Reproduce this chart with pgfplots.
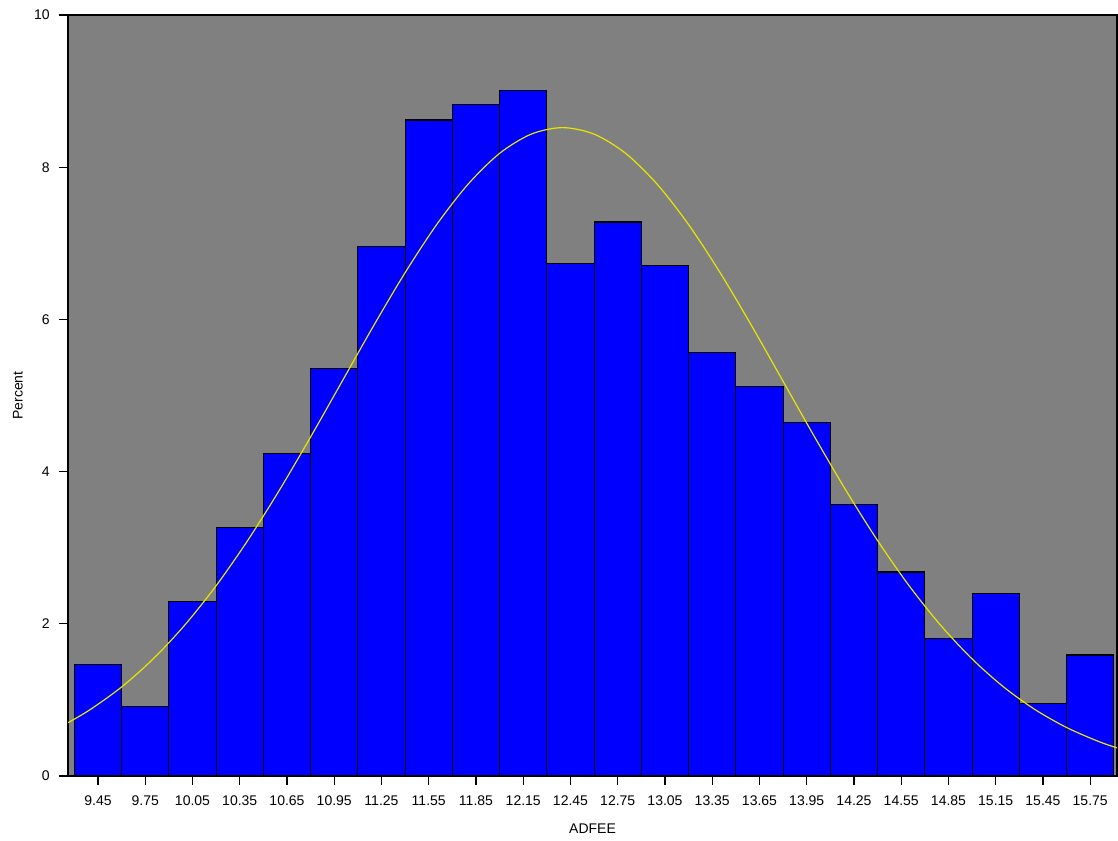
\documentclass[border=0pt]{standalone}
\usepackage{pgfplots}
\pgfplotsset{compat=1.18}
\usepackage{fontspec}
\setmainfont{Liberation Sans}

\definecolor{plotbg}{RGB}{128,128,128}
\definecolor{barblue}{RGB}{0,0,255}
\definecolor{curveyellow}{RGB}{230,230,0}

% bar heights (percent) per bin midpoint
\pgfplotstableread{
mid pct
9.45 1.46
9.75 0.91
10.05 2.29
10.35 3.27
10.65 4.24
10.95 5.35
11.25 6.96
11.55 8.62
11.85 8.82
12.15 9.01
12.45 6.73
12.75 7.28
13.05 6.71
13.35 5.56
13.65 5.12
13.95 4.64
14.25 3.57
14.55 2.68
14.85 1.81
15.15 2.40
15.45 0.95
15.75 1.59
}\bins

\begin{document}
\begin{tikzpicture}
\useasboundingbox (-51pt,-48.75pt) rectangle (787.5pt,582pt);
\begin{axis}[
    scale only axis,
    width=786.75pt, height=570.75pt,
    xmin=9.2595, xmax=15.92,
    ymin=0, ymax=10,
    axis background/.style={fill=plotbg},
    axis line style={line width=0.9pt},
    tick align=outside,
    tick style={black, line width=0.8pt},
    major tick length=6.75pt,
    xtick={9.45,9.75,10.05,10.35,10.65,10.95,11.25,11.55,11.85,12.15,12.45,12.75,13.05,13.35,13.65,13.95,14.25,14.55,14.85,15.15,15.45,15.75},
    xticklabels={9.45,9.75,10.05,10.35,10.65,10.95,11.25,11.55,11.85,12.15,12.45,12.75,13.05,13.35,13.65,13.95,14.25,14.55,14.85,15.15,15.45,15.75},
    ytick={0,2,4,6,8,10},
    yticklabels={0,2,4,6,8,10},
    xtick pos=bottom, ytick pos=left,
    xticklabel shift=4.5pt,
    yticklabel shift=3.5pt,
    tick label style={font=\fontsize{10.5}{12}\selectfont},
    label style={font=\fontsize{10.5}{12}\selectfont},
    xlabel={ADFEE},
    ylabel={Percent},
    xlabel style={at={(axis description cs:0.5,0)}, anchor=center, yshift=-39.75pt},
    ylabel style={at={(axis description cs:0,0.5)}, anchor=center, yshift=37.5pt},
    clip=true,
]
\addplot[ybar, bar width=0.3, bar shift=0pt, fill=barblue, draw=black, line width=0.9pt]
    table[x=mid, y=pct] {\bins};
\addplot[curveyellow, line width=0.9pt, smooth] coordinates {
(9.26,0.701) (9.4,0.872) (9.6,1.170) (9.8,1.538) (10.0,1.981) (10.2,2.500)
(10.4,3.093) (10.6,3.750) (10.8,4.455) (11.0,5.186) (11.2,5.917) (11.4,6.614)
(11.6,7.245) (11.8,7.777) (12.0,8.182) (12.2,8.434) (12.4,8.520) (12.6,8.434)
(12.8,8.182) (13.0,7.777) (13.2,7.245) (13.4,6.614) (13.6,5.917) (13.8,5.186)
(14.0,4.455) (14.2,3.750) (14.4,3.093) (14.6,2.500) (14.8,1.981) (15.0,1.538)
(15.2,1.170) (15.4,0.872) (15.6,0.637) (15.8,0.456) (15.92,0.369)
};
\end{axis}
\end{tikzpicture}
\end{document}
